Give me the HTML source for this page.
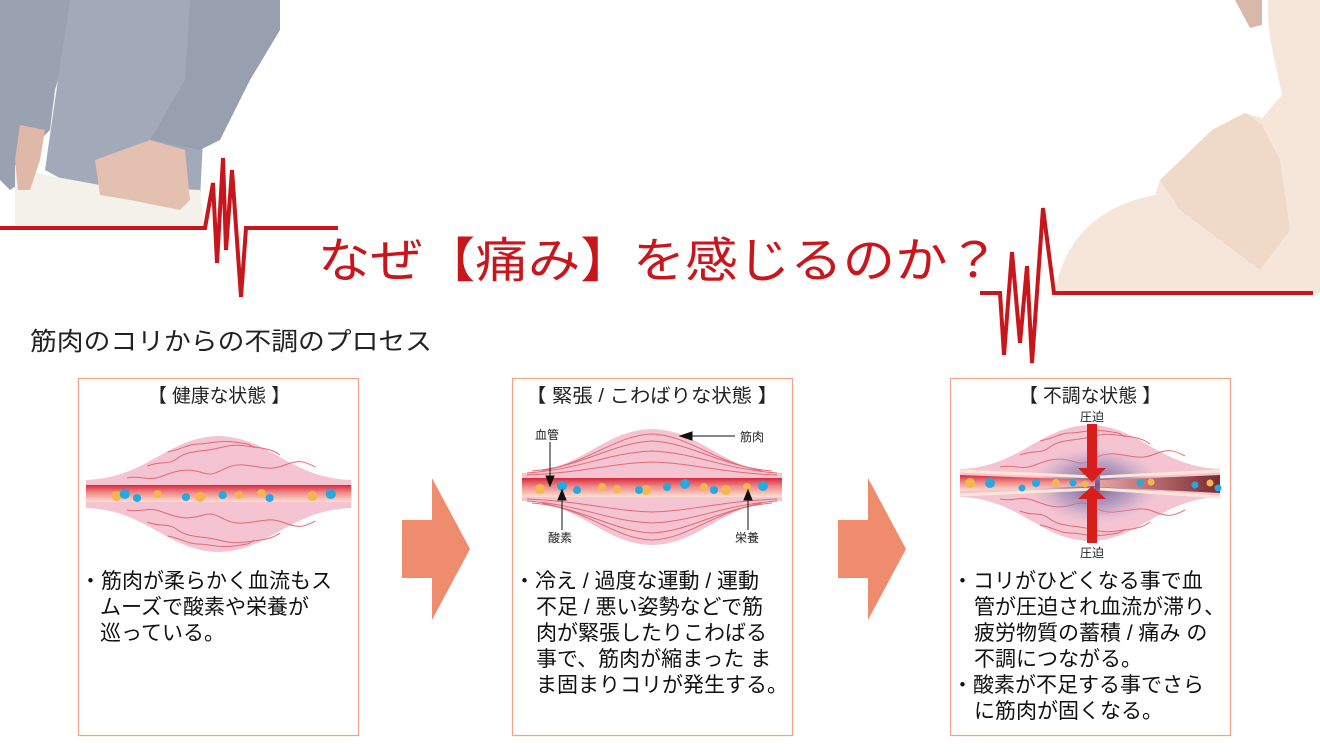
<!DOCTYPE html>
<html><head><meta charset="utf-8">
<style>
html,body{margin:0;padding:0;background:#fff;}
svg text{font-family:"Liberation Sans","Noto Sans CJK JP",sans-serif;}
</style></head><body>
<svg width="1320" height="749" viewBox="0 0 1320 749" xmlns="http://www.w3.org/2000/svg">
<defs>
<linearGradient id="tube" x1="0" y1="0" x2="0" y2="1">
<stop offset="0" stop-color="#d8283a"/><stop offset="0.45" stop-color="#f08a8a"/><stop offset="1" stop-color="#fbe0d0"/>
</linearGradient>
<linearGradient id="tube2" x1="0" y1="0" x2="1" y2="0">
<stop offset="0" stop-color="#e8a0a0"/><stop offset="1" stop-color="#7a2a30"/>
</linearGradient>
<radialGradient id="bruise" cx="0.5" cy="0.5" r="0.5">
<stop offset="0" stop-color="#5a4a80" stop-opacity="0.9"/><stop offset="0.6" stop-color="#9a8ab8" stop-opacity="0.6"/><stop offset="1" stop-color="#c8a8c8" stop-opacity="0"/>
</radialGradient>
<g id="lens">
<path d="M0,-14 C60,-16 80,-57 130,-58 C180,-57 200,-16 260,-14 L260,14 C200,16 180,57 130,58 C80,57 60,16 0,14 Z" fill="#f4c4d2"/>
</g>
<g id="fibers" fill="none" stroke="#e26a72" stroke-width="1">
<path d="M10,-16 C60,-20 90,-44 130,-46 C170,-44 200,-20 250,-16"/>
<path d="M5,-14 C60,-18 85,-34 130,-36 C175,-34 200,-18 255,-14"/>
<path d="M5,-12 C60,-14 90,-24 130,-25 C170,-24 200,-14 255,-12"/>
<path d="M20,-16 C70,-26 95,-52 130,-53 C165,-52 190,-26 240,-16"/>
<path d="M10,16 C60,20 90,44 130,46 C170,44 200,20 250,16"/>
<path d="M5,14 C60,18 85,34 130,36 C175,34 200,18 255,14"/>
<path d="M5,12 C60,14 90,24 130,25 C170,24 200,14 255,12"/>
<path d="M20,16 C70,26 95,52 130,53 C165,52 190,26 240,16"/>
</g>
<g id="wavy" fill="none" stroke="#e26a72" stroke-width="1">
<path d="M40,-16 c15,-3 20,4 35,-2 s25,-8 40,-3 s20,-10 40,-8 s25,6 40,0 s20,-3 30,2"/>
<path d="M60,-28 c15,-6 20,0 30,-8 s25,-6 40,-10 s20,-3 35,-1 s20,4 25,8"/>
<path d="M80,-42 c15,-3 20,-8 30,-8 s20,-4 35,-2 s15,2 20,6"/>
<path d="M40,16 c15,3 20,-4 35,2 s25,8 40,3 s20,10 40,8 s25,-6 40,0 s20,3 30,-2"/>
<path d="M60,28 c15,6 20,0 30,8 s25,6 40,10 s20,3 35,1 s20,-4 25,-8"/>
<path d="M80,42 c15,3 20,8 30,8 s20,4 35,2 s15,-2 20,-6"/>
</g>
</defs>

<!-- top-left photo -->
<g>
<path d="M0,0 L75,0 L70,40 L55,90 L50,130 L30,150 L25,180 L10,190 L0,180 Z" fill="#9aa2b2"/>
<path d="M70,0 L200,0 L205,100 L200,200 L100,200 L45,170 L55,100 Z" fill="#a2aaba"/>
<path d="M190,0 L280,0 L280,30 L250,80 L220,140 L200,150 L150,140 L185,80 Z" fill="#98a0b0"/>
<path d="M15,165 L45,175 L100,185 L200,190 L205,228 L15,228 Z" fill="#f3f1ea"/>
<path d="M20,125 L45,130 L40,160 L30,190 L18,190 L15,160 Z" fill="#e0b8a8"/>
<path d="M95,160 L150,140 L185,150 L190,200 L180,210 L130,200 L100,195 Z" fill="#e4c0b0"/>
</g>
<!-- top-right photo -->
<g>
<path d="M1055,293 C1065,232 1105,205 1155,195 L1160,180 L1212,130 L1245,113 L1262,118 L1282,95 C1275,60 1266,30 1268,0 L1320,0 L1320,293 Z" fill="#f5e6d9"/>
<path d="M1160,180 L1212,130 L1245,113 L1262,125 L1280,160 L1290,230 L1260,270 L1220,240 L1180,210 Z" fill="#efd9c8"/>
<path d="M1235,0 L1262,0 L1262,25 L1250,28 Z" fill="#d8b8a8"/>
</g>

<!-- ECG lines -->
<polyline points="0,228 205,228 213,183 217,263 223,158 226,250 232,170 241,297 246,228 338,228" fill="none" stroke="#c8161d" stroke-width="4" stroke-linejoin="miter"/>
<polyline points="980,293 1000,293 1004,355 1012,252 1020,343 1027,266 1032,363 1043,208 1054,293 1313,293" fill="none" stroke="#c8161d" stroke-width="4" stroke-linejoin="miter"/>

<text x="318" y="277" font-size="48" fill="#c8161d" textLength="682" lengthAdjust="spacingAndGlyphs">なぜ【痛み】を感じるのか？</text>
<text x="30" y="350" font-size="25" fill="#222" textLength="402" lengthAdjust="spacingAndGlyphs">筋肉のコリからの不調のプロセス</text>

<!-- boxes -->
<rect x="78.5" y="378.5" width="280" height="357" fill="none" stroke="#f2a287" stroke-width="1.2"/>
<rect x="512.5" y="378.5" width="280" height="357" fill="none" stroke="#f2a287" stroke-width="1.2"/>
<rect x="950.5" y="378.5" width="280" height="357" fill="none" stroke="#f2a287" stroke-width="1.2"/>

<text x="219" y="402" font-size="19" fill="#222" text-anchor="middle" textLength="142" lengthAdjust="spacingAndGlyphs">【 健康な状態 】</text>
<text x="652" y="402" font-size="19" fill="#222" text-anchor="middle" textLength="252" lengthAdjust="spacingAndGlyphs">【 緊張 / こわばりな状態 】</text>
<text x="1090" y="402" font-size="19" fill="#222" text-anchor="middle" textLength="142" lengthAdjust="spacingAndGlyphs">【 不調な状態 】</text>

<!-- arrows -->
<polygon points="402,520 432,520 432,478 470,549 432,620 432,578 402,578" fill="#f08c6e"/>
<polygon points="838,520 868,520 868,478 906,549 868,620 868,578 838,578" fill="#f08c6e"/>

<!-- muscle 1 -->
<g transform="translate(86,494) scale(1.02,1)">
<use href="#lens"/>
<use href="#wavy"/>
<rect x="0" y="-9" width="260" height="17" fill="url(#tube)"/>
<g fill="#f4b64e"><circle cx="30" cy="2" r="5"/><circle cx="70" cy="0" r="4"/><circle cx="112" cy="3" r="5"/><circle cx="150" cy="1" r="4"/><circle cx="172" cy="-1" r="4"/><circle cx="222" cy="2" r="5"/></g>
<g fill="#27a8de"><circle cx="38" cy="0" r="5"/><circle cx="50" cy="4" r="4"/><circle cx="98" cy="3" r="4"/><circle cx="134" cy="1" r="4"/><circle cx="180" cy="4" r="4"/><circle cx="240" cy="0" r="5"/></g>
</g>

<!-- muscle 2 -->
<g transform="translate(522,487)">
<use href="#lens"/>
<use href="#fibers"/>
<rect x="0" y="-9" width="260" height="19" fill="url(#tube)"/>
<g fill="#f4b64e"><circle cx="18" cy="2" r="5"/><circle cx="80" cy="0" r="4"/><circle cx="95" cy="2" r="4"/><circle cx="124" cy="3" r="5"/><circle cx="182" cy="0" r="4"/><circle cx="204" cy="3" r="5"/><circle cx="225" cy="0" r="4"/></g>
<g fill="#27a8de"><circle cx="40" cy="-1" r="5"/><circle cx="55" cy="3" r="4"/><circle cx="117" cy="3" r="4"/><circle cx="145" cy="0" r="4"/><circle cx="163" cy="-3" r="5"/><circle cx="192" cy="3" r="4"/><circle cx="241" cy="-1" r="5"/></g>
</g>
<g stroke="#111" stroke-width="1" fill="#111">
<line x1="550" y1="442" x2="550" y2="478"/><polygon points="546,476 554,476 550,486"/>
<line x1="562" y1="530" x2="562" y2="498"/><polygon points="558,500 566,500 562,490"/>
<line x1="748" y1="530" x2="748" y2="498"/><polygon points="744,500 752,500 748,490"/>
<line x1="735" y1="436" x2="690" y2="436"/><polygon points="692,432 692,440 680,436"/>
</g>
<text x="535" y="439" font-size="12" fill="#222">血管</text>
<text x="740" y="441" font-size="12" fill="#222">筋肉</text>
<text x="548" y="542" font-size="12" fill="#222">酸素</text>
<text x="735" y="542" font-size="12" fill="#222">栄養</text>

<!-- muscle 3 -->
<g transform="translate(960,483)">
<use href="#lens"/>
<use href="#wavy"/>
<ellipse cx="135" cy="2" rx="65" ry="38" fill="url(#bruise)"/>
<polygon points="0,-8 135,-3 135,3 0,8" fill="url(#tube)"/>
<polygon points="140,-3 260,-8 260,10 140,4" fill="url(#tube2)"/>
<path d="M0,-12 L135,-6 M140,-6 L260,-12 M0,12 L135,6 M140,6 L260,14" stroke="#fbe6d6" stroke-width="3" fill="none"/>
<g fill="#f4b64e"><circle cx="10" cy="0" r="5"/><circle cx="96" cy="0" r="4"/><circle cx="125" cy="1" r="3.5"/><circle cx="191" cy="-1" r="3.5"/><circle cx="250" cy="0" r="3.5"/></g>
<g fill="#27a8de"><circle cx="30" cy="0" r="5"/><circle cx="62" cy="5" r="3.5"/><circle cx="76" cy="0" r="4"/><circle cx="113" cy="0" r="3.5"/><circle cx="180" cy="0" r="3.5"/><circle cx="235" cy="2" r="3.5"/><circle cx="258" cy="5" r="3.5"/></g>
</g>
<g fill="#d91c1c">
<rect x="1087" y="424" width="10" height="46"/><polygon points="1078,468 1106,468 1092,482"/>
<rect x="1087" y="497" width="10" height="46"/><polygon points="1078,499 1106,499 1092,486"/>
</g>
<text x="1092" y="421" font-size="12" fill="#222" text-anchor="middle">圧迫</text>
<text x="1092" y="557" font-size="12" fill="#222" text-anchor="middle">圧迫</text>

<!-- body texts -->
<g font-size="21" fill="#111">
<text x="80" y="588">・筋肉が柔らかく血流もス</text>
<text x="100" y="614">ムーズで酸素や栄養が</text>
<text x="100" y="640">巡っている。</text>

<text x="514" y="588">・冷え / 過度な運動 / 運動</text>
<text x="536" y="614">不足 / 悪い姿勢などで筋</text>
<text x="536" y="640">肉が緊張したりこわばる</text>
<text x="536" y="666">事で、筋肉が縮まった ま</text>
<text x="536" y="692">ま固まりコリが発生する。</text>

<text x="952" y="588">・コリがひどくなる事で血</text>
<text x="974" y="614">管が圧迫され血流が滞り、</text>
<text x="974" y="640">疲労物質の蓄積 / 痛み の</text>
<text x="974" y="666">不調につながる。</text>
<text x="952" y="692">・酸素が不足する事でさら</text>
<text x="974" y="718">に筋肉が固くなる。</text>
</g>
</svg>
</body></html>
